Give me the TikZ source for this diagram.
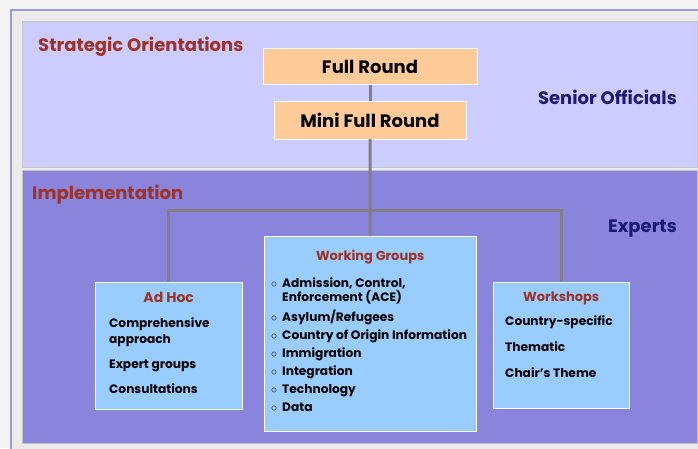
\documentclass[tikz,border=0pt]{standalone}
\usepackage{fontspec}
\setmainfont{Poppins}
\usetikzlibrary{positioning}
\definecolor{outerbg}{HTML}{F4F4F4}
\definecolor{framegray}{HTML}{EBEBEB}
\definecolor{framelav}{HTML}{9A9AE0}
\definecolor{toppanel}{HTML}{CCCCFF}
\definecolor{botpanel}{HTML}{8A84DC}
\definecolor{panelline}{HTML}{C4C4C4}
\definecolor{roundfill}{HTML}{FFCC99}
\definecolor{groupfill}{HTML}{99CCFF}
\definecolor{headred}{HTML}{9E3226}
\definecolor{navy}{HTML}{1C1A72}
\definecolor{linkgray}{HTML}{808080}

\begin{document}
\begin{tikzpicture}
[x=1pt,y=-1pt,
  round/.style={draw=white,fill=roundfill,minimum height=36pt,inner sep=0pt,
    font=\fontsize{18}{20}\selectfont\bfseries},
  group/.style={draw=white,fill=groupfill,anchor=north west,inner sep=0pt},
  head/.style={text=headred,inner sep=0pt,font=\fontsize{13}{15}\selectfont\bfseries},
  items/.style={align=left,inner sep=0pt,font=\fontsize{12.2}{16}\selectfont\bfseries},
  area/.style={text=headred,anchor=west,inner sep=0pt,font=\fontsize{18}{20}\selectfont\bfseries},
  level/.style={text=navy,inner sep=0pt,font=\fontsize{18}{20}\selectfont\bfseries},
  link/.style={draw=linkgray,line width=3pt}]
\useasboundingbox (0,0) rectangle (698,448);
% panels
\fill[outerbg] (0,0) rectangle (698,448);
\filldraw[fill=framegray,draw=framelav,line width=1.5pt] (11,10) rectangle (712,462);
\filldraw[fill=toppanel,draw=panelline] (22,21) rectangle (697,167);
\filldraw[fill=botpanel,draw=panelline] (22,170) rectangle (697,443);
\node[area] (strat) at (38,47) {Strategic Orientations};
\node[area] (impl) at (32,195) {Implementation};
\node[level,anchor=east] (senior) at (677,97) {Senior Officials};
\node[level,anchor=east] (experts) at (677,229) {Experts};
% senior level
\node[round,minimum width=214pt] (full) at (370,66.5) {Full Round};
\node[round,minimum width=192pt,minimum height=38pt] (mini) at (370,120) {Mini Full Round};
% expert level
\node[group,minimum width=147pt,minimum height=127pt] (adhoc) at (95,282) {};
\node[group,minimum width=212pt,minimum height=195pt] (wg) at (264,236) {};
\node[group,minimum width=136pt,minimum height=126pt] (shops) at (493,282) {};
\node[head,below=10pt of adhoc.north,font=\fontsize{14}{15}\selectfont\bfseries] (adhoch) {Ad Hoc};
\node[head,below=14pt of wg.north] (wgh) {Working Groups};
\node[head,below=10pt of shops.north] (shopsh) {Workshops};
\node[items,anchor=north west] (adhocl) at (109,318)
  {Comprehensive\\approach\\[9pt]Expert groups\\[9pt]Consultations};
\node[items,anchor=north west] (shopsl) at (505,316)
  {Country-specific\\[10pt]Thematic\\[10pt]Chair’s Theme};
\node[items,anchor=north west,font=\fontsize{12.2}{14}\selectfont\bfseries] (wgl) at (271,278)
  {\makebox[11pt][l]{$\circ$}Admission, Control,\\
   \hspace*{11pt}Enforcement (ACE)\\[4pt]
   \makebox[11pt][l]{$\circ$}Asylum/Refugees\\[4pt]
   \makebox[11pt][l]{$\circ$}Country of Origin Information\\[4pt]
   \makebox[11pt][l]{$\circ$}Immigration\\[4pt]
   \makebox[11pt][l]{$\circ$}Integration\\[4pt]
   \makebox[11pt][l]{$\circ$}Technology\\[4pt]
   \makebox[11pt][l]{$\circ$}Data};
% connectors
\coordinate (bar) at (370,210);
\path[link] (full) -- (mini);
\path[link] (mini) -- (wg);
\path[link] (adhoc.north) |- (bar) -| (shops.north);
\end{tikzpicture}
\end{document}
